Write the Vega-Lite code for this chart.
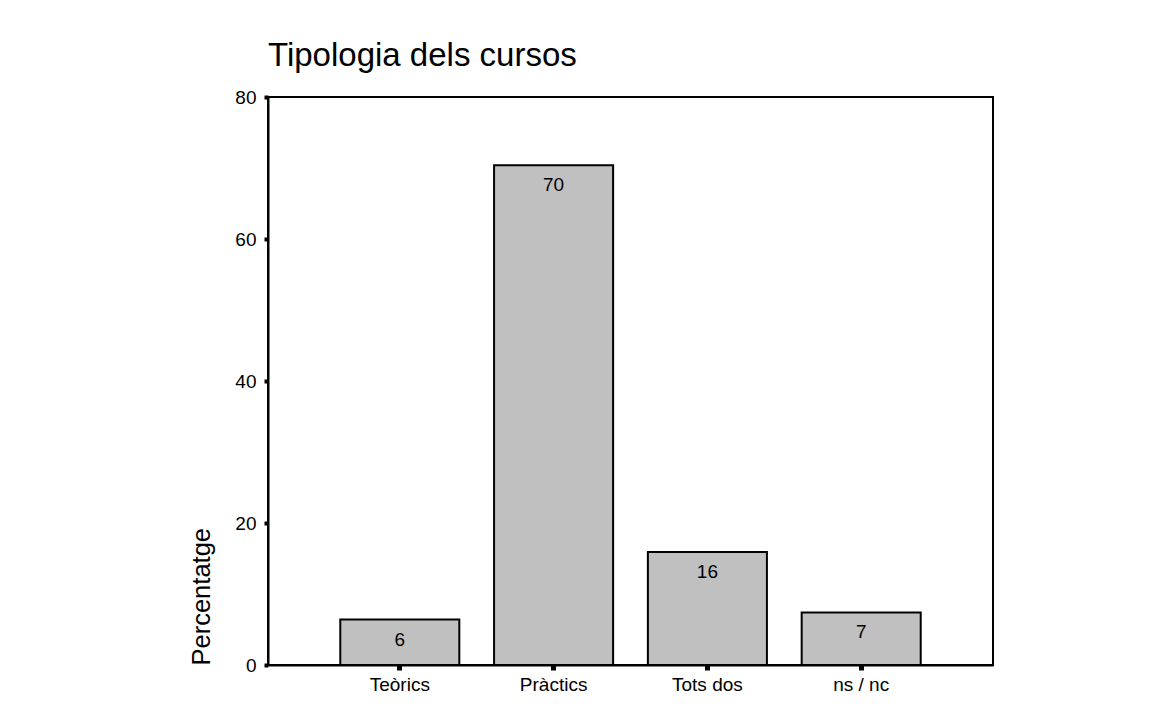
{
  "$schema": "https://vega.github.io/schema/vega-lite/v6.json",
  "width": 725,
  "height": 568,
  "autosize": {"type": "none"},
  "padding": {"left": 268, "top": 97, "right": 156, "bottom": 51},
  "background": "white",
  "title": {"text": "Tipologia dels cursos", "anchor": "start", "frame": "group", "font": "Liberation Sans", "fontSize": 33, "fontWeight": "normal", "color": "black", "offset": 15},
  "config": {
    "view": {"stroke": "black", "strokeWidth": 2},
    "font": "Liberation Sans"
  },
  "data": {"values": [
    {"tipus": "Teòrics", "pct": 6.4, "label": "6"},
    {"tipus": "Pràctics", "pct": 70.4, "label": "70"},
    {"tipus": "Tots dos", "pct": 15.9, "label": "16"},
    {"tipus": "ns / nc", "pct": 7.4, "label": "7"}
  ]},
  "encoding": {
    "x": {"field": "tipus", "type": "nominal", "sort": null,
      "scale": {"paddingInner": 0.226, "paddingOuter": 0.47},
      "axis": {"title": null, "labelAngle": 0, "labelFontSize": 19, "labelColor": "black", "labelPadding": 5,
        "domainColor": "black", "domainWidth": 2, "tickColor": "black", "tickWidth": 5, "tickSize": 5, "grid": false}},
    "y": {"field": "pct", "type": "quantitative",
      "scale": {"domain": [0, 80], "nice": false},
      "axis": {"title": "Percentatge", "values": [0, 20, 40, 60, 80], "titleFontSize": 25.5, "titleFontWeight": "normal", "titleColor": "black",
        "titleAnchor": "start", "titlePadding": 20, "labelFontSize": 19, "labelColor": "black", "labelPadding": 8,
        "domainColor": "black", "domainWidth": 2, "tickColor": "black", "tickWidth": 4, "tickSize": 4, "grid": false}}
  },
  "layer": [
    {"mark": {"type": "bar", "fill": "#c0c0c0", "stroke": "black", "strokeWidth": 2}},
    {"mark": {"type": "text", "baseline": "top", "dy": 11, "fontSize": 19, "color": "black"},
      "encoding": {"text": {"field": "label"}}}
  ]
}
